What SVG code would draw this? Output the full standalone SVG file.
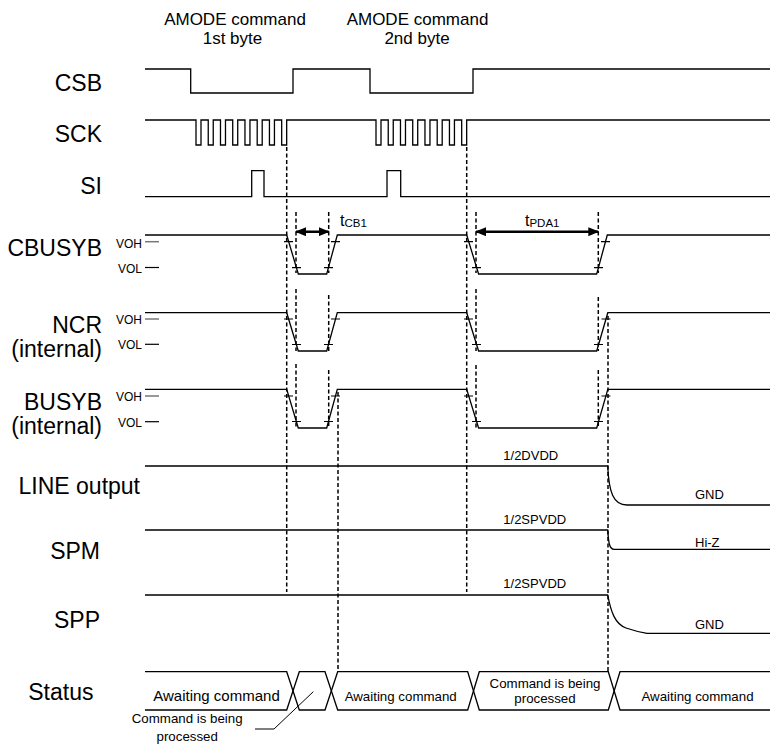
<svg xmlns="http://www.w3.org/2000/svg" width="771" height="749" viewBox="0 0 771 749">
<style>
.w{fill:none;stroke:#000;stroke-width:1.3}
.d{fill:none;stroke:#000;stroke-width:1.5;stroke-dasharray:4 2.5}
.tk{stroke:#000;stroke-width:1.2}
.tg{stroke:#777;stroke-width:1.5}
.ar{stroke:#000;stroke-width:2.6;marker-start:url(#ah);marker-end:url(#ah)}
text{font-family:"Liberation Sans",Arial,sans-serif;fill:#000}
.lbl{font-size:23px;text-anchor:end}
.hd{font-size:17px;text-anchor:middle}
.sm{font-size:12px;text-anchor:end}
.lv{font-size:13px}
.st{font-size:13.3px;text-anchor:middle}
</style>
<defs>
<marker id="ah" markerUnits="userSpaceOnUse" markerWidth="11" markerHeight="9" refX="10" refY="4.5" orient="auto-start-reverse">
<path d="M0,0 L11,4.5 L0,9 z" fill="#000"/>
</marker>
</defs>
<rect width="771" height="749" fill="#fff"/>

<g id="header">
<text class="hd" x="235" y="25">AMODE command</text>
<text class="hd" x="232.5" y="44">1st byte</text>
<text class="hd" x="417.5" y="25">AMODE command</text>
<text class="hd" x="417" y="44">2nd byte</text>
</g>

<g id="CSB">
<text class="lbl" x="102" y="91">CSB</text>
<path class="w" d="M145 69 H190.7 V93 H293 V69 H370 V93 H473 V69 H770"/>
</g>

<g id="SCK">
<text class="lbl" x="102" y="141.5">SCK</text>
<path class="w" d="M145 120 H196 V145 H201 V120 H208.24 V145 H213.24 V120 H220.48 V145 H225.48 V120 H232.72 V145 H237.72 V120 H244.96 V145 H249.96 V120 H257.2 V145 H262.2 V120 H269.44 V145 H274.44 V120 H281.68 V145 H286.68 V120 H376 V145 H381 V120 H388.24 V145 H393.24 V120 H400.48 V145 H405.48 V120 H412.72 V145 H417.72 V120 H424.96 V145 H429.96 V120 H437.2 V145 H442.2 V120 H449.44 V145 H454.44 V120 H461.68 V145 H466.68 V120 H770"/>
</g>

<g id="SI">
<text class="lbl" x="102" y="193.5">SI</text>
<path class="w" d="M145 196.7 H251.7 V170.7 H264 V196.7 H387 V170.7 H400.7 V196.7 H770"/>
</g>

<g id="CBUSYB">
<text class="lbl" x="102" y="256">CBUSYB</text>
<text class="sm" x="142" y="247.5">VOH</text>
<text class="sm" x="142" y="272.5">VOL</text>
<line class="tg" x1="145" y1="241.7" x2="159" y2="241.7"/>
<line class="tk" x1="145" y1="267.5" x2="159" y2="267.5"/>
<path class="w" d="M145 235 H286.7 L298.3 274 H326.7 L337.3 235 H466.7 L478.6 274 H596.7 L607.3 235 H770"/>
<path class="tk" d="M284 241.7 h9 M292 267.7 h9 M324 267.7 h9 M331 241.7 h9 M464 241.7 h9 M472 267.7 h9 M594 267.7 h9 M601 241.7 h9"/>
</g>

<g id="NCR">
<text class="lbl" x="102" y="333">NCR</text>
<text class="lbl" x="102" y="356.5">(internal)</text>
<text class="sm" x="142" y="324.3">VOH</text>
<text class="sm" x="142" y="349.3">VOL</text>
<line class="tg" x1="145" y1="319" x2="159" y2="319"/>
<line class="tk" x1="145" y1="344.3" x2="159" y2="344.3"/>
<path class="w" d="M145 312.7 H286.7 L298.3 351 H326.7 L337.3 312.7 H466.7 L478.6 351 H596.7 L607.8 312.7 H770"/>
<path class="tk" d="M284 319 h9 M292 344.5 h9 M324 344.5 h9 M331 319 h9 M464 319 h9 M472 344.5 h9 M594 344.5 h9 M601.5 319 h9"/>
</g>

<g id="BUSYB">
<text class="lbl" x="102" y="410">BUSYB</text>
<text class="lbl" x="102" y="433.5">(internal)</text>
<text class="sm" x="142" y="401">VOH</text>
<text class="sm" x="142" y="426.6">VOL</text>
<line class="tg" x1="145" y1="396" x2="159" y2="396"/>
<line class="tk" x1="145" y1="421.7" x2="159" y2="421.7"/>
<path class="w" d="M145 389.3 H286.7 L298.3 428 H326.7 L337.3 389.3 H466.7 L478.6 428 H596.7 L607.8 389.3 H770"/>
<path class="tk" d="M284 396 h9 M292 421.5 h9 M324 421.5 h9 M331 396 h9 M464 396 h9 M472 421.5 h9 M594 421.5 h9 M601.5 396 h9"/>
</g>

<g id="LINE">
<text class="lbl" x="140" y="494">LINE output</text>
<path class="w" d="M145 466 H607.7 C609 492 613 505 627 505 H770"/>
<text class="lv" x="503.3" y="460">1/2DVDD</text>
<text class="lv" x="695" y="499">GND</text>
</g>

<g id="SPM">
<text class="lbl" x="100" y="559">SPM</text>
<path class="w" d="M145 530 H607.7 C608.5 541 609 549.3 614 549.3 H770"/>
<text class="lv" x="503.3" y="524">1/2SPVDD</text>
<text class="lv" x="695" y="546.7">Hi-Z</text>
</g>

<g id="SPP">
<text class="lbl" x="100" y="628">SPP</text>
<path class="w" d="M145 595 H607.7 C611 612 615 624 626 628 Q636 631.5 647 633.3 H770"/>
<text class="lv" x="503.3" y="587.7">1/2SPVDD</text>
<text class="lv" x="695" y="629.3">GND</text>
</g>

<g id="Status">
<text class="lbl" x="93.5" y="700">Status</text>
<path class="w" d="M145 671.7 H286.7 L299.3 710 H325 L337.7 671.7 H467.7 L479.3 710 H608.3 L620 671.7 H770"/>
<path class="w" d="M145 710 H286.7 L299.3 671.7 H325 L337.7 710 H467.7 L479.3 671.7 H608.3 L620 710 H770"/>
<text class="st" x="216.5" y="700.5" style="font-size:15px">Awaiting command</text>
<text class="st" x="400.7" y="700.5">Awaiting command</text>
<text class="st" x="545" y="688">Command is being</text>
<text class="st" x="545" y="703">processed</text>
<text class="st" x="697.5" y="700.5">Awaiting command</text>
<text class="st" x="187.2" y="723">Command is being</text>
<text class="st" x="187.2" y="741">processed</text>
</g>

<g id="connectors">
<path class="d" d="M286.7 147 V592 M466.7 147 V592 M338 392 V671.7 M608 316 V671.7"/>
<path class="d" d="M296 212 V273 M328.7 212 V273 M476 212 V273 M598.3 212 V273"/>
<path class="d" d="M296 289 V351 M328.7 295 V351 M476 289 V351 M598.3 297 V351"/>
<path class="d" d="M296 364 V428 M328.7 370 V428 M476 365 V428 M598.3 370 V428"/>
<line class="ar" x1="296" y1="231.7" x2="328.7" y2="231.7"/>
<line class="ar" x1="476" y1="231.7" x2="598.3" y2="231.7"/>
<polyline fill="none" stroke="#000" stroke-width="1" points="255,729 274,729 313.3,691.7"/>
<text x="340" y="225.7" style="font-size:16px">t<tspan style="font-size:11.5px" dy="1">CB1</tspan></text>
<text x="525" y="225.7" style="font-size:16px">t<tspan style="font-size:11.5px" dy="1">PDA1</tspan></text>
</g>
</svg>
